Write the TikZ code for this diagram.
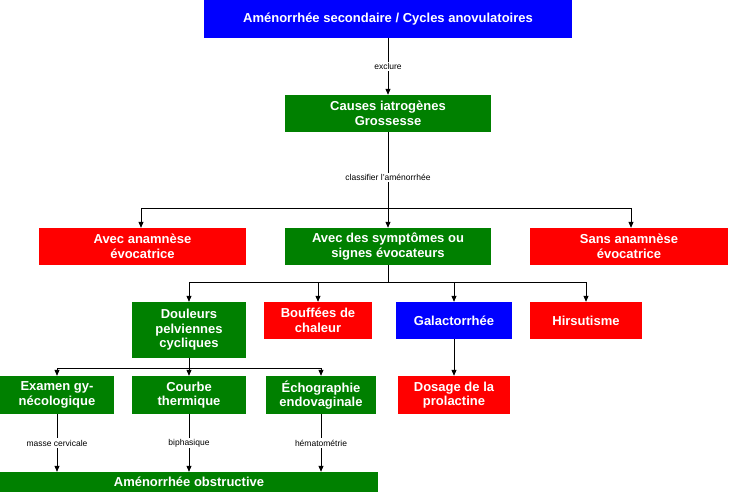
\documentclass[tikz,border=0pt]{standalone}
\usepackage{fontspec}
\setmainfont{Liberation Sans}
\usetikzlibrary{arrows.meta}
\definecolor{gB}{RGB}{0,128,0}
\definecolor{rB}{RGB}{255,0,0}
\definecolor{bB}{RGB}{0,0,255}
\begin{document}
\begin{tikzpicture}[x=1pt,y=-1pt,
 box/.style={draw=none,text=white,font=\fontsize{13}{14.5}\selectfont\bfseries,align=center,inner sep=0pt},
 lab/.style={fill=white,font=\fontsize{8.5}{10}\selectfont,inner sep=1.5pt},
 arr/.style={-{Triangle[length=6pt,width=5pt]},line width=0.8pt},
 ln/.style={line width=0.8pt}]
\useasboundingbox (0,0) rectangle (738,492);
\newcommand\bx[6]{\node[box,fill=#6,minimum width=#4-#2,minimum height=#5-#3] (#1) at ({(#2+#4)/2},{(#3+#5)/2}) {};}
\bx{top}{204}{0}{572}{38}{bB}
\node[box] at (top) {Aménorrhée secondaire / Cycles anovulatoires};
\bx{cau}{285}{95}{491}{132}{gB}
\node[box] at (cau) {Causes iatrogènes\\Grossesse};
\bx{ana}{39}{228}{246}{265}{rB}
\node[box] at (ana) {Avec anamnèse\\évocatrice};
\bx{sym}{285}{228}{491}{265}{gB}
\node[box] at (sym) {Avec des symptômes ou\\signes évocateurs};
\bx{san}{530}{228}{728}{265}{rB}
\node[box] at (san) {Sans anamnèse\\évocatrice};
\bx{dou}{132}{302}{246}{358}{gB}
\node[box] at (dou) {Douleurs\\pelviennes\\cycliques};
\bx{bou}{264}{302}{372}{339}{rB}
\node[box] at (bou) {Bouffées de\\chaleur};
\bx{gal}{396}{302}{512}{339}{bB}
\node[box] at (gal) {Galactorrhée};
\bx{hir}{530}{302}{642}{339}{rB}
\node[box] at (hir) {Hirsutisme};
\bx{exa}{0}{376}{114}{414}{gB}
\node[box] at (exa) {Examen gy-\\nécologique};
\bx{cou}{132}{376}{246}{414}{gB}
\node[box] at (cou) {Courbe\\thermique};
\bx{ech}{266}{376}{376}{414}{gB}
\node[box] at (ech) {Échographie\\endovaginale};
\bx{dos}{398}{376}{510}{414}{rB}
\node[box] at (dos) {Dosage de la\\prolactine};
\bx{obs}{0}{472}{378}{492}{gB}
\node[box] at (obs) {Aménorrhée obstructive};
% connectors
\draw[arr] (top) -- (cau) node[lab,pos=0.5] {exclure};
\coordinate (b1) at (388,208);
\draw[ln] (cau) -- (b1) node[lab,pos=0.6] {classifier l'aménorrhée};
\draw[ln] (141,208) -- (631,208);
\draw[arr] (141,208) -- (ana.north -| 141,0);
\draw[arr] (b1) -- (sym);
\draw[arr] (631,208) -- (san.north -| 631,0);
\draw[ln] (sym.south) -- (388,282);
\draw[ln] (189,282) -- (586,282);
\draw[arr] (189,282) -- (dou);
\draw[arr] (318,282) -- (bou);
\draw[arr] (454,282) -- (gal);
\draw[arr] (586,282) -- (hir);
\draw[arr] (gal) -- (dos);
\draw[ln] (dou) -- (189,368);
\draw[ln] (57,368) -- (321,368);
\draw[arr] (57,368) -- (exa);
\draw[arr] (189,368) -- (cou);
\draw[arr] (321,368) -- (ech);
\draw[arr] (exa) -- (exa.south |- obs.north) node[lab,pos=0.5] {masse cervicale};
\draw[arr] (cou) -- (cou.south |- obs.north) node[lab,pos=0.5] {biphasique};
\draw[arr] (ech) -- (ech.south |- obs.north) node[lab,pos=0.5] {hématométrie};
\end{tikzpicture}
\end{document}
